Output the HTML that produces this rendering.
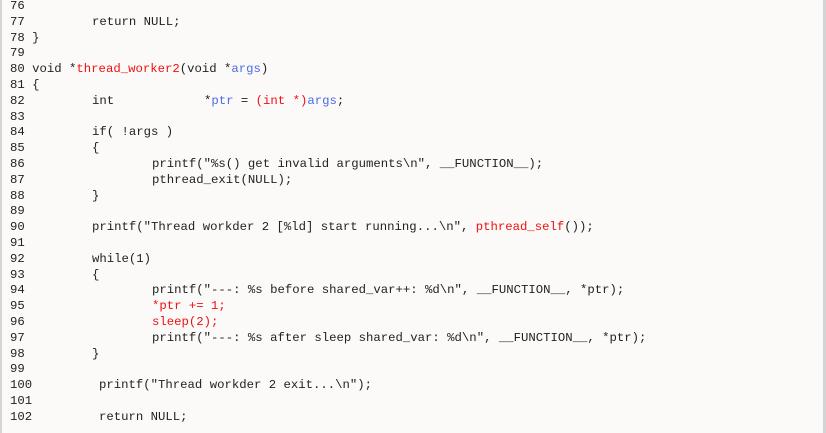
<!DOCTYPE html>
<html><head><meta charset="utf-8"><style>
html,body{margin:0;padding:0}
body{width:826px;height:433px;background:#fbfaf8;position:relative;overflow:hidden;font-family:"Liberation Mono",monospace;font-size:12.3px;color:#222}
.bl{position:absolute;left:0;top:0;width:2px;height:433px;background:#d4d4d4}
.br{position:absolute;right:0;top:0;width:3px;height:433px;background:#d4d4d4}
.l{position:absolute;height:16px;line-height:16px;white-space:pre}
.n{left:10px}
.r{color:#ee1111}.b{color:#4a6be6}
</style></head><body>
<div class="bl"></div><div class="br"></div>
<div class="l n" style="top:-2px">76</div>
<div class="l n" style="top:13.8px">77</div><div class="l" style="top:13.8px;left:92px">return NULL;</div>
<div class="l n" style="top:29.6px">78 }</div>
<div class="l n" style="top:45.4px">79</div>
<div class="l n" style="top:61.2px">80 void *<span class="r">thread_worker2</span>(void *<span class="b">args</span>)</div>
<div class="l n" style="top:77px">81 {</div>
<div class="l n" style="top:92.8px">82</div><div class="l" style="top:92.8px;left:92px">int</div><div class="l" style="top:92.8px;left:204px">*<span class="b">ptr</span> = <span class="r">(int *)</span><span class="b">args</span>;</div>
<div class="l n" style="top:108.6px">83</div>
<div class="l n" style="top:124.4px">84</div><div class="l" style="top:124.4px;left:92px">if( !args )</div>
<div class="l n" style="top:140.2px">85</div><div class="l" style="top:140.2px;left:92px">{</div>
<div class="l n" style="top:156px">86</div><div class="l" style="top:156px;left:152px">printf("%s() get invalid arguments\n", __FUNCTION__);</div>
<div class="l n" style="top:171.8px">87</div><div class="l" style="top:171.8px;left:152px">pthread_exit(NULL);</div>
<div class="l n" style="top:187.6px">88</div><div class="l" style="top:187.6px;left:92px">}</div>
<div class="l n" style="top:203.4px">89</div>
<div class="l n" style="top:219.2px">90</div><div class="l" style="top:219.2px;left:92px">printf("Thread workder 2 [%ld] start running...\n", <span class="r">pthread_self</span>());</div>
<div class="l n" style="top:235px">91</div>
<div class="l n" style="top:250.8px">92</div><div class="l" style="top:250.8px;left:92px">while(1)</div>
<div class="l n" style="top:266.6px">93</div><div class="l" style="top:266.6px;left:92px">{</div>
<div class="l n" style="top:282.4px">94</div><div class="l" style="top:282.4px;left:152px">printf("---: %s before shared_var++: %d\n", __FUNCTION__, *ptr);</div>
<div class="l n" style="top:298.2px">95</div><div class="l r" style="top:298.2px;left:152px">*ptr += 1;</div>
<div class="l n" style="top:314px">96</div><div class="l r" style="top:314px;left:152px">sleep(2);</div>
<div class="l n" style="top:329.8px">97</div><div class="l" style="top:329.8px;left:152px">printf("---: %s after sleep shared_var: %d\n", __FUNCTION__, *ptr);</div>
<div class="l n" style="top:345.6px">98</div><div class="l" style="top:345.6px;left:92px">}</div>
<div class="l n" style="top:361.4px">99</div>
<div class="l n" style="top:377.2px">100</div><div class="l" style="top:377.2px;left:99px">printf("Thread workder 2 exit...\n");</div>
<div class="l n" style="top:393px">101</div>
<div class="l n" style="top:408.8px">102</div><div class="l" style="top:408.8px;left:99px">return NULL;</div>
</body></html>
